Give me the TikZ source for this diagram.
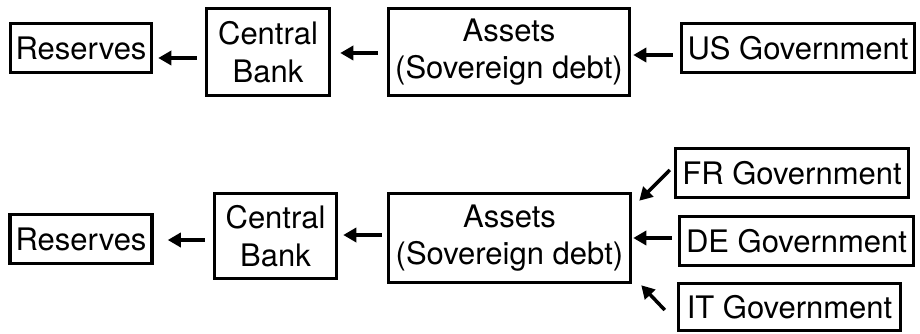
\documentclass[tikz,border=0pt]{standalone}
\usepackage{fontspec}
\setmainfont{TeX Gyre Heros}
\usetikzlibrary{arrows.meta}

\tikzset{
	box/.style={draw, line width=3.5pt, inner sep=0pt, align=center, font=\fontsize{31}{37.5}\selectfont},
	arr/.style={-{Triangle[length=13pt,width=14pt]}, line width=3.5pt}
}

\begin{document}
\begin{tikzpicture}[x=1pt,y=-1pt]
	\useasboundingbox (0,0) rectangle (920,334);
	% top row
	\node[box, minimum width=141pt, minimum height=49pt] (res1) at (81,48) {Reserves};
	\node[box, minimum width=123pt, minimum height=87pt] (cb1) at (268,52) {Central\\Bank};
	\node[box, minimum width=241pt, minimum height=87pt] (as1) at (509,52) {Assets\\(Sovereign debt)};
	\node[box, minimum width=233pt, minimum height=49pt] (us) at (798,48) {US Government};
	\draw [arr] ([shift={(-8,6)}]cb1.west) -- ([shift={(5,10)}]res1.east);
	\draw [arr] ([shift={(-9,1)}]as1.west) -- ([shift={(9,1)}]cb1.east);
	\draw [arr] ([shift={(-7,7)}]us.west) -- ([shift={(2,3)}]as1.east);
	% bottom row
	\node[box, minimum width=142pt, minimum height=49pt] (res2) at (81,239) {Reserves};
	\node[box, minimum width=122pt, minimum height=85pt] (cb2) at (275.5,236) {Central\\Bank};
	\node[box, minimum width=242pt, minimum height=89pt] (as2) at (509.5,238) {Assets\\(Sovereign debt)};
	\node[box, minimum width=233pt, minimum height=49pt] (fr) at (792,173) {FR Government};
	\node[box, minimum width=234pt, minimum height=49pt] (de) at (796.5,241) {DE Government};
	\node[box, minimum width=222pt, minimum height=47pt] (it) at (789.5,307) {IT Government};
	\draw [arr] ([shift={(-8,4)}]cb2.west) -- ([shift={(14,1)}]res2.east);
	\draw [arr] ([shift={(-5,-3)}]as2.west) -- ([shift={(5,-1)}]cb2.east);
	\draw [arr] ([shift={(-4,-3)}]fr.west) -- ([shift={(7,9)}]as2.north east);
	\draw [arr] ([shift={(-6,-3)}]de.west) -- ([shift={(1,0)}]as2.east);
	\draw [arr] ([shift={(-12,3)}]it.west) -- ([shift={(9,1)}]as2.south east);
\end{tikzpicture}
\end{document}
